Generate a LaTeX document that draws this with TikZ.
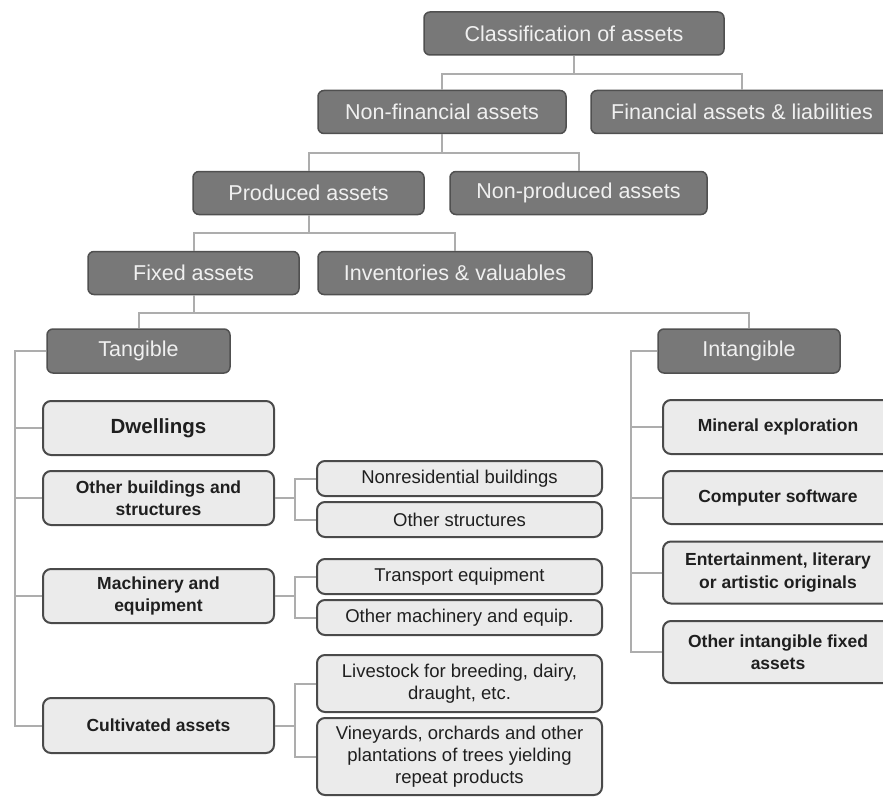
\documentclass[tikz,border=0pt]{standalone}
\usepackage{fontspec}
\setmainfont{Liberation Sans}
\definecolor{HEADcolor}{HTML}{787878}
\definecolor{HEADedge}{HTML}{505050}
\definecolor{ITEMcolor}{HTML}{EBEBEB}
\definecolor{ITEMedge}{HTML}{4A4A4A}
\definecolor{LINKcolor}{HTML}{ADADAD}
\usetikzlibrary{%
    calc,
    math
}

\begin{document}
\begin{tikzpicture}[x=1pt, y=-1pt, line width=2pt,
        headbox/.style={draw=HEADedge, fill=HEADcolor, line width=1.5pt, rounded corners=6pt,
                text=white!94!black, font=\fontsize{21.5}{24}\selectfont, inner sep=0pt, minimum height=43},
        itembox/.style={draw=ITEMedge, fill=ITEMcolor, line width=2pt, rounded corners=8pt, align=center,
                text=black!88, font=\bfseries\fontsize{17.5}{22.5}\selectfont, inner sep=0pt, minimum width=231},
        subbox/.style={itembox, font=\fontsize{18.5}{22}\selectfont, minimum width=285},
        link/.style={draw=LINKcolor, line width=2pt}]
    \tikzmath{%
        % 各列中心
        \xleft=158.5;
        \xsub=459.5;
        \xint=778;
    };
    \fill [white] (0, 0) rectangle (883, 797);
    \useasboundingbox (0, 0) rectangle (883, 797);

    % 上层
    \node (cls) [headbox, minimum width=300] at (574, 33.5) {Classification of assets};
    \node (nonfin) [headbox, minimum width=248] at (442, 112) {Non-financial assets};
    \node (fin) [headbox, minimum width=302] at (742, 112) {Financial assets \& liabilities};
    \node (prod) [headbox, minimum width=231] at (308.5, 193) {Produced assets};
    \node (nonprod) [headbox, minimum width=257] at (578.5, 193) {Non-produced assets};
    \node (fixed) [headbox, minimum width=211] at (193.5, 273) {Fixed assets};
    \node (inv) [headbox, minimum width=274] at (455, 273) {Inventories \& valuables};
    \node (tang) [headbox, minimum width=183, minimum height=44] at (138.5, 351) {Tangible};
    \node (intang) [headbox, minimum width=182, minimum height=44] at (749, 351) {Intangible};

    \draw [link] (cls.south) -- ++(0, 18) -| (nonfin.north);
    \draw [link] (cls.south) -- ++(0, 18) -| (fin.north);
    \draw [link] (nonfin.south) -- ++(0, 19) -| (prod.north);
    \draw [link] (nonfin.south) -- ++(0, 19) -| (nonprod.north);
    \draw [link] (prod.south) -- ++(0, 18) -| (fixed.north);
    \draw [link] (prod.south) -- ++(0, 18) -| (inv.north);
    \draw [link] (fixed.south) -- ++(0, 17.5) -| (tang.north);
    \draw [link] (fixed.south) -- ++(0, 17.5) -| (intang.north);

    % 有形资产
    \node (dwell) [itembox, minimum height=54, font=\bfseries\fontsize{20.5}{24}\selectfont] at (\xleft, 428) {Dwellings};
    \node (othbld) [itembox, minimum height=54] at (\xleft, 498) {Other buildings and\\structures};
    \node (mach) [itembox, minimum height=54] at (\xleft, 596) {Machinery and\\equipment};
    \node (cult) [itembox, minimum height=55] at (\xleft, 725.5) {Cultivated assets};

    \node (nonres) [subbox, minimum height=35] at (\xsub, 478.5) {Nonresidential buildings};
    \node (othstr) [subbox, minimum height=35] at (\xsub, 519.5) {Other structures};
    \node (transp) [subbox, minimum height=35] at (\xsub, 576.5) {Transport equipment};
    \node (othmach) [subbox, minimum height=35] at (\xsub, 617.5) {Other machinery and equip.};
    \node (livest) [subbox, minimum height=57] at (\xsub, 683.5) {Livestock for breeding, dairy,\\draught, etc.};
    \node (vine) [subbox, minimum height=77] at (\xsub, 756.5) {Vineyards, orchards and other\\plantations of trees yielding\\repeat products};

    \coordinate (tbus) at (15, 351);
    \coordinate (sbus) at (295, 0);
    \draw [link] (tang.west) -- (tbus) -- (tbus |- cult.west) -- (cult.west);
    \foreach \n in {dwell, othbld, mach} {%
            \draw [link] (\n.west) -- (\n.west -| tbus);
        }
    \draw [link] (othbld.east) -- (othbld.east -| sbus);
    \draw [link] (nonres.west) -| (sbus |- othstr.west) -- (othstr.west);
    \draw [link] (mach.east) -- (mach.east -| sbus);
    \draw [link] (transp.west) -| (sbus |- othmach.west) -- (othmach.west);
    \draw [link] (cult.east) -- (cult.east -| sbus);
    \draw [link] (livest.west) -| (sbus |- vine.west) -- (vine.west);

    % 无形资产
    \node (mineral) [itembox, minimum width=230, minimum height=54] at (\xint, 427) {Mineral exploration};
    \node (soft) [itembox, minimum width=230, minimum height=53] at (\xint, 497.5) {Computer software};
    \node (ent) [itembox, minimum width=230, minimum height=62] at (\xint, 572.5) {Entertainment, literary\\or artistic originals};
    \node (othint) [itembox, minimum width=230, minimum height=62] at (\xint, 652) {Other intangible fixed\\assets};

    \coordinate (ibus) at (631, 351);
    \draw [link] (intang.west) -- (ibus) -- (ibus |- othint.west) -- (othint.west);
    \foreach \n in {mineral, soft, ent} {%
            \draw [link] (\n.west) -- (\n.west -| ibus);
        }
\end{tikzpicture}
\end{document}
